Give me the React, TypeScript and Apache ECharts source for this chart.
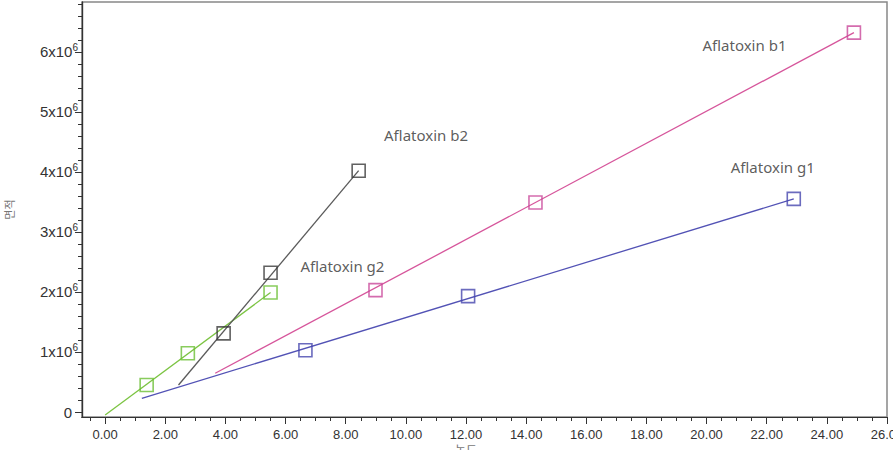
import React, { useEffect, useRef } from 'react';
import * as echarts from 'echarts';

// Axis ranges and tick labels
const xMin = -0.77;
const xMax = 26;
const yMin = -0.083e6;
const yMax = 6.83e6;
const xMajorTicks = [0, 2, 4, 6, 8, 10, 12, 14, 16, 18, 20, 22, 24, 26];
const yMajorTicks = [0, 1e6, 2e6, 3e6, 4e6, 5e6, 6e6];

// Aflatoxin g2 (green)
const g2X = [1.38, 2.75, 5.5];
const g2Y = [0.45e6, 0.978e6, 1.99e6];
const g2Fit = [[0, -0.05e6], [5.5, 1.99e6]];
// Aflatoxin b2 (black)
const b2X = [3.94, 5.5, 8.43];
const b2Y = [1.31e6, 2.32e6, 4.02e6];
const b2Fit = [[2.44, 0.45e6], [8.43, 4.02e6]];
// Aflatoxin b1 (pink)
const b1X = [8.99, 14.31, 24.9];
const b1Y = [2.03e6, 3.49e6, 6.32e6];
const b1Fit = [[3.66, 0.645e6], [24.9, 6.32e6]];
// Aflatoxin g1 (blue)
const g1X = [6.66, 12.07, 22.9];
const g1Y = [1.03e6, 1.93e6, 3.55e6];
const g1Fit = [[1.22, 0.228e6], [22.9, 3.55e6]];

// Annotation labels
const labelNames = ['Aflatoxin b1', 'Aflatoxin b2', 'Aflatoxin g1', 'Aflatoxin g2'];
const labelX = [21.26, 10.67, 22.2, 7.89];
const labelY = [6.12e6, 4.62e6, 4.08e6, 2.43e6];

const xMinorTicks: number[] = [];
for (let k = -1; k * 0.5 < xMax; k++) {
  if (k % 4 !== 0) xMinorTicks.push(k * 0.5);
}
const yMinorTicks: number[] = [];
for (let k = 1; k * 2e5 < yMax; k++) {
  if (k % 5 !== 0) yMinorTicks.push(k * 2e5);
}

const zip = (xs: number[], ys: number[]) => xs.map((x, i) => [x, ys[i]]);

export default function App() {
  const ref = useRef<HTMLDivElement>(null);
  useEffect(() => {
    const chart = echarts.init(ref.current!, null, { renderer: 'svg' });
    const axisColor = '#333';
    const mk = (name: string, color: string, sqColor: string, fit: number[][], pts: number[][]) => [
      {
        name,
        type: 'line',
        data: fit,
        showSymbol: false,
        symbol: 'none',
        lineStyle: { color, width: 1.3 },
        clip: false,
        z: 2,
      },
      {
        name,
        type: 'scatter',
        data: pts,
        symbol: 'rect',
        symbolSize: 13,
        itemStyle: { color: 'transparent', borderColor: sqColor, borderWidth: 1.6 },
        z: 3,
      },
    ];
    const option: any = {
      animation: false,
      backgroundColor: '#fff',
      grid: {
        left: 82,
        right: 6,
        top: 2,
        bottom: 33,
        containLabel: false,
        outerBoundsMode: 'none',
        show: true,
        borderColor: '#888',
        borderWidth: 1.5,
      },
      xAxis: [
        {
          type: 'value',
          min: xMin,
          max: xMax,
          position: 'bottom',
          splitLine: { show: false },
          axisLine: { show: true, onZero: false, lineStyle: { color: axisColor, width: 1.2 } },
          axisTick: { show: true, customValues: xMajorTicks, length: 7, lineStyle: { color: axisColor } },
          axisLabel: {
            customValues: xMajorTicks,
            formatter: (v: number) => v.toFixed(2),
            margin: 11,
            color: '#333',
            fontSize: 13,
            fontFamily: 'Liberation Sans',
          },
        },
        {
          type: 'value',
          min: xMin,
          max: xMax,
          position: 'bottom',
          offset: 0,
          splitLine: { show: false },
          axisLine: { show: true, onZero: false, lineStyle: { color: axisColor, width: 1.2 } },
          axisTick: { show: true, customValues: xMinorTicks, length: 4, lineStyle: { color: axisColor } },
          axisLabel: { show: false },
        },
      ],
      yAxis: [
        {
          type: 'value',
          min: yMin,
          max: yMax,
          position: 'left',
          name: '면적',
          nameLocation: 'middle',
          nameRotate: 90,
          nameGap: 68,
          nameTextStyle: { color: '#777', fontSize: 11, fontFamily: 'Noto Sans CJK KR' },
          splitLine: { show: false },
          axisLine: { show: true, onZero: false, lineStyle: { color: axisColor, width: 1.2 } },
          axisTick: { show: true, customValues: yMajorTicks, length: 7, lineStyle: { color: axisColor } },
          axisLabel: {
            customValues: yMajorTicks,
            margin: 4,
            formatter: (v: number) => (v === 0 ? '{z|0}' : `{m|${Math.round(v / 1e6)}x10}{s|6}`),
            rich: {
              z: { fontSize: 15, color: '#333', fontFamily: 'Liberation Sans', padding: [0, 6, 0, 0] },
              m: { fontSize: 15, color: '#333', fontFamily: 'Liberation Sans' },
              s: { fontSize: 10, color: '#333', fontFamily: 'Liberation Sans', padding: [0, 0, 9, 0] },
            },
          },
        },
        {
          type: 'value',
          min: yMin,
          max: yMax,
          position: 'left',
          offset: 0,
          splitLine: { show: false },
          axisLine: { show: true, onZero: false, lineStyle: { color: axisColor, width: 1.2 } },
          axisTick: { show: true, customValues: yMinorTicks, length: 4, lineStyle: { color: axisColor } },
          axisLabel: { show: false },
        },
      ],
      series: [
        ...mk('Aflatoxin g2', '#7cc443', '#6cbf35', g2Fit, zip(g2X, g2Y)),
        ...mk('Aflatoxin b2', '#5a5a5a', '#3a3a3a', b2Fit, zip(b2X, b2Y)),
        ...mk('Aflatoxin b1', '#d6559b', '#c9479a', b1Fit, zip(b1X, b1Y)),
        ...mk('Aflatoxin g1', '#5252b5', '#4646ae', g1Fit, zip(g1X, g1Y)),
        {
          type: 'scatter',
          symbolSize: 0,
          silent: true,
          data: labelNames.map((n, i) => ({ name: n, value: [labelX[i], labelY[i]] })),
          label: {
            show: true,
            position: 'inside',
            formatter: '{b}',
            color: '#333',
            fontSize: 15,
            fontFamily: 'Noto Sans',
          },
          z: 4,
        },
      ],
      graphic: [
        {
          type: 'text',
          left: 455,
          top: 443,
          style: { text: '농도', fill: '#777', fontSize: 12, fontFamily: 'Noto Sans CJK KR' },
        },
      ],
    };
    chart.setOption(option);
    return () => chart.dispose();
  }, []);
  return <div ref={ref} style={{ position: 'absolute', left: 0, top: 0, width: 893, height: 450 }} />;
}
